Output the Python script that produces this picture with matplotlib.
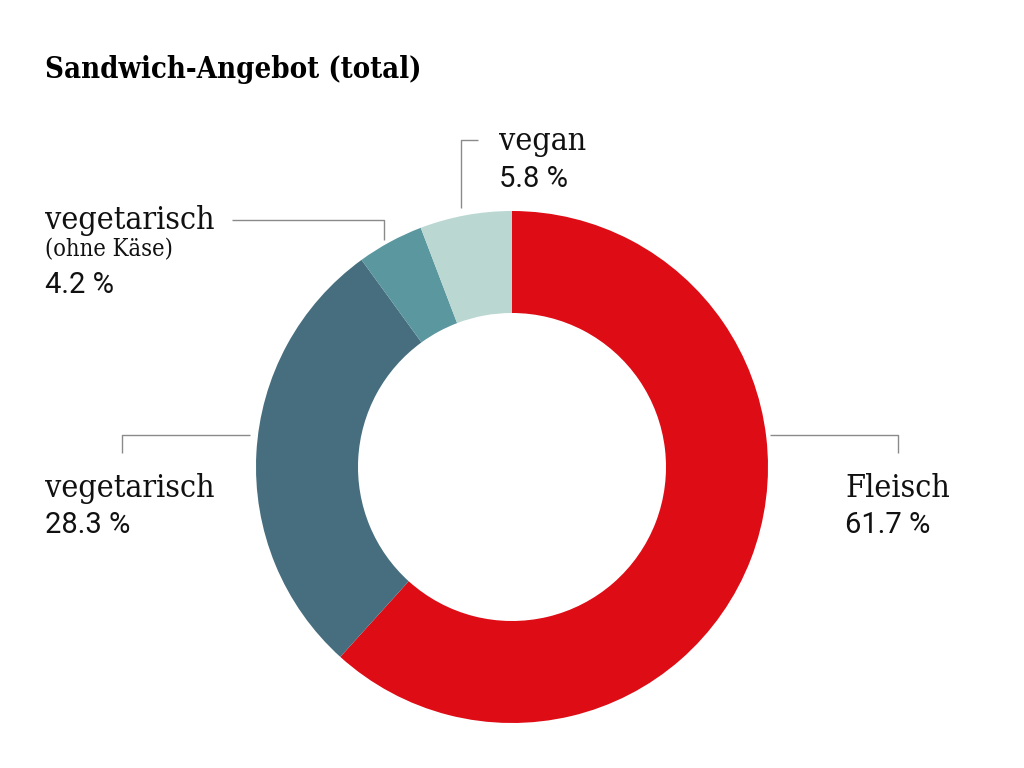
import matplotlib
matplotlib.use("Agg")
import matplotlib.pyplot as plt

title = "Sandwich-Angebot (total)"
categories = ["Fleisch", "vegetarisch", "vegetarisch", "vegan"]
subnotes = ["", "", "(ohne Käse)", ""]
values = [61.7, 28.3, 4.2, 5.8]
colors = ["#DE0C15", "#466E7E", "#5B979E", "#BAD7D2"]

W, H = 1024, 768
fig = plt.figure(figsize=(W / 100, H / 100), dpi=100)
ax = fig.add_axes([0, 0, 1, 1])

def Y(y):
    return H - y

cx, cy, R, ring = 512, Y(467), 256, 102
ax.pie(values, colors=colors, startangle=90, counterclock=False,
       center=(cx, cy), radius=R, wedgeprops=dict(width=ring, linewidth=0),
       frame=True)
ax.set_xlim(0, W)
ax.set_ylim(0, H)
ax.set_aspect("equal")
ax.axis("off")

serif = dict(family="DejaVu Serif", fontstretch="condensed")
lab_fs = 23
num_fs = 21
sub_fs = 17
lc = "#8a8a8a"
tc = "#111111"

ax.text(45, Y(78), title, fontsize=21, fontweight="bold", va="baseline",
        color="#000000", **serif)

# leader lines (pixel coords)
leaders = [
    [(770, 435), (898, 435), (898, 453)],
    [(250, 435), (122, 435), (122, 453)],
    [(232, 220), (384, 220), (384, 240)],
    [(478, 140), (461, 140), (461, 208)],
]
for pts in leaders:
    ax.plot([p[0] for p in pts], [Y(p[1]) for p in pts], color=lc, lw=1.0,
            solid_capstyle="butt")

# labels: (x, name baseline, sub baseline, value baseline)
label_pos = [
    (845, 497, None, 533),
    (45, 497, None, 533),
    (45, 229, 256, 293),
    (499, 150, None, 187),
]
for cat, sub, val, (x, yb, ys, yv) in zip(categories, subnotes, values, label_pos):
    ax.text(x, Y(yb), cat, fontsize=lab_fs, va="baseline", color=tc, **serif)
    if sub:
        ax.text(x, Y(ys), sub, fontsize=sub_fs, va="baseline", color=tc, **serif)
    ax.text(x, Y(yv), f"{val:.1f} %", fontsize=num_fs, va="baseline",
            color=tc, family="Roboto")

fig.savefig("out.png", dpi=100, facecolor="white")
